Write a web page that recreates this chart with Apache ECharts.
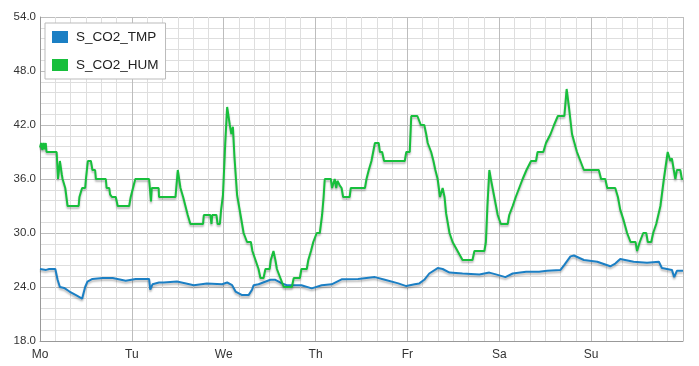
<!DOCTYPE html>
<html><head><meta charset="utf-8">
<script src="https://cdn.jsdelivr.net/npm/echarts@6/dist/echarts.min.js"></script>
<style>html,body{margin:0;padding:0;background:#fff}#c{width:699px;height:366px}</style>
</head><body><div id="c"></div>
<script>
const dayLabels = ['Mo','Tu','We','Th','Fr','Sa','Su'];
const yTicks = [18, 24, 30, 36, 42, 48, 54];
const seriesNames = ['S_CO2_TMP', 'S_CO2_HUM'];

const tmpHours = [0,0.5,1.6,2.4,4.0,4.6,5.2,6.3,7.7,9.4,11.0,11.3,11.8,12.4,13.7,16.4,19.0,22.4,25.0,28.5,28.8,29.4,31.1,
  32.3,35.8,40.2,43.6,47.6,48.9,50.2,51.1,52.8,54.5,55.4,55.8,57.1,60.2,61.5,63.2,64.5,
  68.3,71.0,73.6,76.2,78.8,83.1,87.5,90.1,93.6,95.7,97.9,
  99.1,100.4,101.7,103.9,105.2,107.0,110.4,114.8,117.4,119.1,121.6,123.5,127.0,130.4,
  132.5,136.0,136.9,138.6,139.5,142.1,145.6,149.0,150.3,151.6,155.1,158.6,161.7,162.5,165.1,165.7,166.4,168];
const tmpValues = [26.0,26.2,25.9,26.0,26.0,24.8,24.0,23.9,23.5,23.1,22.7,23.2,24.0,24.6,24.9,25.0,25.0,24.7,24.9,24.9,23.7,24.3,24.5,
  24.5,24.6,24.2,24.4,24.3,24.5,24.2,23.5,23.1,23.1,23.7,24.2,24.3,24.8,24.8,24.4,24.2,
  24.2,23.85,24.2,24.3,24.85,24.9,25.1,24.8,24.4,24.1,24.3,
  24.4,24.8,25.5,26.1,26.0,25.6,25.5,25.4,25.6,25.4,25.1,25.5,25.7,25.7,
  25.8,25.9,26.4,27.4,27.5,27.0,26.8,26.3,26.6,27.1,26.8,26.7,26.8,26.1,25.9,25.1,25.8,25.8];

const humHours = [0,0.3,0.6,0.9,1.2,1.5,1.7,4.35,4.7,5.2,5.7,5.9,6.6,7.2,10.1,10.3,11.0,11.8,12.0,12.3,12.5,13.3,13.7,14.4,14.6,17.2,17.4,18.1,18.3,18.8,19.8,20.3,23.3,23.7,24.3,24.9,28.5,29.0,29.2,31.0,31.1,
  35.4,36.0,36.7,37.4,38.0,38.6,39.3,42.6,42.8,44.5,44.8,45.0,46.1,46.4,47.0,47.3,47.8,48.4,48.9,49.6,50.0,50.4,50.8,51.5,52.4,53.2,54.1,55.1,55.5,56.3,57.1,57.6,58.4,58.9,60.0,60.3,61.0,61.5,61.9,62.8,63.7,65.8,66.3,
  67.9,68.3,69.7,70.1,70.8,71.4,72.3,73.1,73.7,74.1,74.4,76.0,76.3,77.0,77.4,77.7,78.3,78.8,79.2,80.9,81.2,84.9,85.3,85.9,86.6,87.5,88.5,88.8,89.4,89.9,95.3,95.7,96.6,97.0,98.6,99.5,
  100.4,100.9,101.3,102.2,102.8,103.3,103.9,104.5,105.2,105.7,106.1,107.0,107.8,109.1,110.4,113.0,113.5,116.1,116.5,116.9,117.4,117.8,118.7,119.6,120.4,122.2,122.6,123.5,124.3,125.2,126.1,127.1,128.3,129.6,130.0,131.5,132.2,
  133.4,134.3,135.3,137.0,137.6,138.2,139.0,140.3,141.2,142.1,146.0,146.6,147.7,148.2,150.3,151.0,151.6,152.5,153.4,154.3,155.6,156.0,156.7,157.6,158.4,158.8,159.7,160.2,161.0,162.1,163.0,164.0,164.7,165.1,165.6,166.0,166.4,167.3,167.7,168];
const humValues = [39.5,40,39.2,40,39.3,40,39,39,36,38,36.5,36,35,33,33,34,35,35,36,36,38,38,37,37,36,36,35,35,34.3,34,34,33,33,34,35,36,36,33.5,35,35,34,
  34,37,35,34,33,32,31,31,32,32,31,32,32,31,31,32.5,34.2,40,44,42,41,41.8,38.5,34.2,32,30,29,29,28,27,26,25,25,26,26,27,28,27,26,25,24,24,25,
  25,26,26,27,28,29,30,30,32,34,36,36,35,36,35,35.8,35.3,35,34,34,35,35,36,37,38,40,40,39,39,38,38,39,39,43,43,42,
  42,41,40,39,38,37,36,34,35,34,32.2,30,29,28,27,27,28,28,29,33,37,36,34,32,31,31,32,33,34,35,36,37,38,38,39,39,40,
  41,42,43,43,46,44,41,39,38,37,37,36,36,35,35,34,32.6,31.4,30,29,29,28,29,30,30,29,29,30,31,33,36,39,38,38.3,37,36,37,37,36,36];

function pairs(h, v){ return h.map((x,i)=>[x, v[i]]); }

const chart = echarts.init(document.getElementById('c'), null, {renderer:'canvas'});
const blue = '#1b7fc4', green = '#17bf3c';
const lineShadow = {shadowColor:'rgba(0,0,0,0.28)', shadowBlur:2, shadowOffsetY:2};
chart.setOption({
  animation:false,
  backgroundColor:'#fff',
  grid:{left:40, right:16, top:17, bottom:25, containLabel:false},
  legend:{
    orient:'vertical', left:45, top:23,
    data: seriesNames.map(n=>({name:n, icon:'rect'})),
    itemWidth:16, itemHeight:12, itemGap:14,
    backgroundColor:'#fff', borderColor:'#bbb', borderWidth:1, borderRadius:0,
    padding:[7,7,7,7],
    textStyle:{fontSize:13.5, color:'#222', fontFamily:'Liberation Sans, Arial, sans-serif', padding:[0,0,0,3]}
  },
  xAxis:{
    type:'value', min:0, max:168, interval:24,
    axisLine:{show:true, lineStyle:{color:'#999', width:1}},
    axisTick:{show:false},
    minorTick:{show:false, splitNumber:6},
    splitLine:{show:true, lineStyle:{color:'#bdbdbd', width:1}},
    minorSplitLine:{show:true, lineStyle:{color:'#dedede', width:1}},
    axisLabel:{color:'#333', fontSize:12, margin:8, fontFamily:'Liberation Sans, Arial, sans-serif',
      formatter:(v)=>{ const i=Math.round(v/24); return i<dayLabels.length? dayLabels[i] : ''; }}
  },
  yAxis:{
    type:'value', min:yTicks[0], max:yTicks[yTicks.length-1], interval:6,
    axisLine:{show:true, lineStyle:{color:'#999', width:1}},
    axisTick:{show:false},
    minorTick:{show:false, splitNumber:5},
    splitLine:{show:true, lineStyle:{color:'#bdbdbd', width:1}},
    minorSplitLine:{show:true, lineStyle:{color:'#dedede', width:1}},
    axisLabel:{color:'#333', fontSize:11.5, margin:4, fontFamily:'Liberation Sans, Arial, sans-serif',
      formatter:(v)=>v.toFixed(1)}
  },
  series:[
    {name:seriesNames[0], type:'line', data:pairs(tmpHours,tmpValues), showSymbol:false, color:blue,
      lineStyle:Object.assign({width:2, color:blue}, lineShadow)},
    {name:seriesNames[1], type:'line', data:pairs(humHours,humValues), showSymbol:false, color:green,
      lineStyle:Object.assign({width:2, color:green}, lineShadow)}
  ]
});
</script></body></html>
